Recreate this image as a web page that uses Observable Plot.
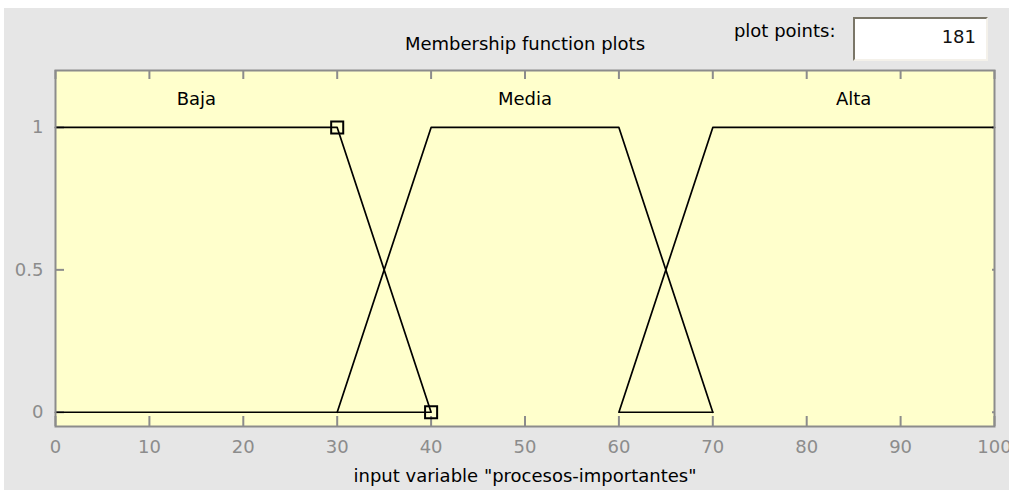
<!DOCTYPE html>
<html>
<head>
<meta charset="utf-8">
<script src="https://cdn.jsdelivr.net/npm/d3@7"></script>
<script src="https://cdn.jsdelivr.net/npm/@observablehq/plot@0.6"></script>
<style>
  html, body { margin: 0; padding: 0; background: #ffffff; width: 1009px; height: 491px; overflow: hidden; }
  #panel { position: absolute; left: 4px; top: 8px; width: 1005px; height: 482px; background: #e6e6e6; }
  #chart { position: absolute; left: 0; top: 0; }
  #box { position: absolute; left: 853px; top: 17px; width: 131px; height: 40px;
         background: #ffffff; border-style: solid; border-width: 2px;
         border-color: #7a7668 #f4f1ea #f4f1ea #7a7668;
         font-family: "DejaVu Sans", sans-serif; font-size: 18px; color: #111;
         text-align: right; box-sizing: content-box; }
  #box span { position: absolute; right: 10px; top: 8px; line-height: 20px; }
</style>
</head>
<body>
<div id="panel"></div>
<div id="chart"></div>
<div id="box"><span id="pp"></span></div>
<script>
// ---- data ----
const xTicks = [0, 10, 20, 30, 40, 50, 60, 70, 80, 90, 100];
const yTicks = [0, 0.5, 1];
const yTickLabels = ["0", "0.5", "1"];
const mfNames = ["Baja", "Media", "Alta"];
const mfLabelX = [15, 50, 85];
const mfLabelY = [1.1, 1.1, 1.1];
const bajaX = [0, 30, 40, 0];
const bajaY = [1, 1, 0, 0];
const mediaX = [30, 40, 60, 70];
const mediaY = [0, 1, 1, 0];
const altaX = [70, 60, 70, 100];
const altaY = [0, 0, 1, 1];
const markerX = [30, 40];
const markerY = [1, 0];
const titleText = "Membership function plots";
const xLabelText = 'input variable "procesos-importantes"';
const plotPointsLabel = "plot points:";
const plotPointsValue = "181";

// ---- build tables ----
const series = [
  {name: "Baja", xs: bajaX, ys: bajaY},
  {name: "Media", xs: mediaX, ys: mediaY},
  {name: "Alta", xs: altaX, ys: altaY}
];
const lineData = series.flatMap(s => s.xs.map((x, i) => ({mf: s.name, x, y: s.ys[i]})));
const labelData = mfNames.map((n, i) => ({name: n, x: mfLabelX[i], y: mfLabelY[i]}));
const markerData = markerX.map((x, i) => ({x, y: markerY[i]}));

const W = 1009, H = 491, mL = 55, mR = 15, mT = 70, mB = 65;
const frameW = W - mL - mR, frameH = H - mT - mB;
const gray = "#8c8c8c";

const chart = Plot.plot({
  width: W, height: H,
  marginLeft: mL, marginRight: mR, marginTop: mT, marginBottom: mB,
  style: {background: "transparent", fontFamily: "DejaVu Sans, sans-serif", fontSize: "18px", overflow: "visible"},
  x: {domain: [0, 100]},
  y: {domain: [-0.05, 1.2]},
  marks: [
    Plot.frame({fill: "#ffffcc", stroke: "none"}),
    // inward ticks
    Plot.ruleX(xTicks, {x: d => d, stroke: gray, strokeWidth: 2, insetTop: frameH - 10}),
    Plot.ruleX(xTicks, {x: d => d, stroke: gray, strokeWidth: 2, insetBottom: frameH - 9}),
    Plot.ruleY(yTicks, {y: d => d, stroke: gray, strokeWidth: 2, insetRight: frameW - 9}),
    Plot.ruleY(yTicks, {y: d => d, stroke: gray, strokeWidth: 2, insetLeft: frameW - 2}),
    Plot.axisX(xTicks, {tickSize: 0, tickPadding: 14, fill: gray, label: null}),
    Plot.axisY(yTicks, {tickSize: 0, tickPadding: 12, fill: gray, label: null,
      tickFormat: d => yTickLabels[yTicks.indexOf(d)]}),
    Plot.line(lineData, {x: "x", y: "y", z: "mf", stroke: "#000", strokeWidth: 1.7, curve: "linear"}),
    Plot.dot(markerData, {x: "x", y: "y", symbol: "square", r: 6.8, stroke: "#000", strokeWidth: 2, fill: "none"}),
    Plot.text(labelData, {x: "x", y: "y", text: "name", fill: "#000", fontSize: 18}),
    Plot.frame({stroke: gray, strokeWidth: 2}),
    Plot.text([titleText], {frameAnchor: "top", lineAnchor: "middle", dy: -26, text: d => d, fill: "#000", fontSize: 18}),
    Plot.text([plotPointsLabel], {frameAnchor: "top-right", lineAnchor: "middle", dx: -159, dy: -39, textAnchor: "end", text: d => d, fill: "#000", fontSize: 18}),
    Plot.text([xLabelText], {frameAnchor: "bottom", lineAnchor: "middle", dy: 50, text: d => d, fill: "#000", fontSize: 18})
  ]
});
document.getElementById("chart").appendChild(chart);
document.getElementById("pp").textContent = plotPointsValue;
</script>
</body>
</html>
